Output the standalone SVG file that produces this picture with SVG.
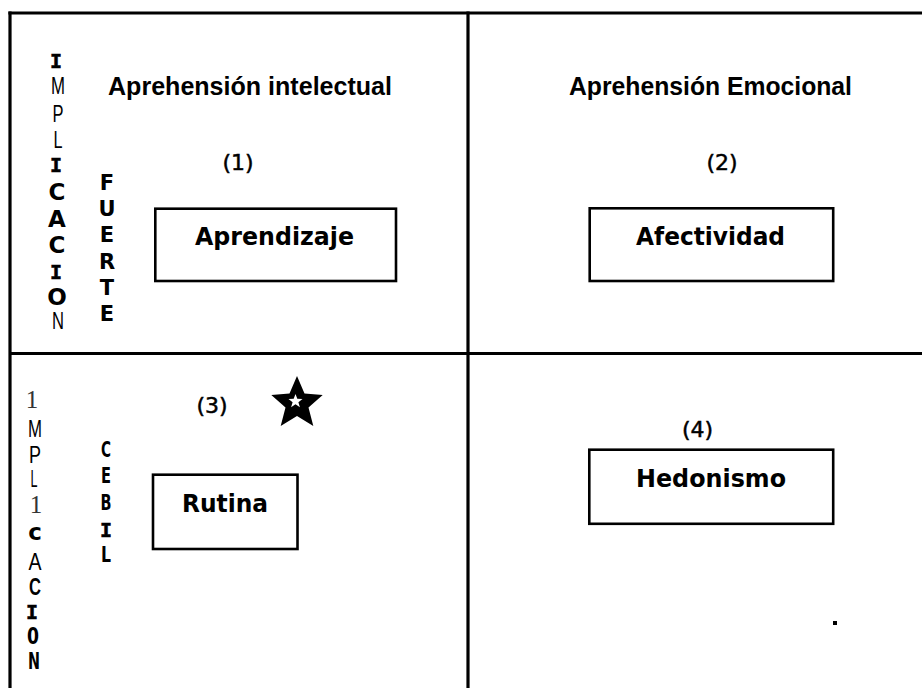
<svg xmlns="http://www.w3.org/2000/svg" width="922" height="688" viewBox="0 0 922 688">
<style>
.grid{stroke:#000;stroke-width:3.2;fill:none}
.box{fill:#fff;stroke:#000;stroke-width:2.6}
.head{font-family:"Liberation Sans",Arial,sans-serif;font-weight:bold;font-size:25px;fill:#000}
.num{font-family:"DejaVu Sans",Verdana,sans-serif;font-size:22px;fill:#000;stroke:#000;stroke-width:0.5;text-anchor:middle}
.lbl{font-family:"DejaVu Sans",Verdana,sans-serif;font-weight:bold;font-size:24px;fill:#000;text-anchor:middle}
.vb{font-family:"DejaVu Sans",Verdana,sans-serif;font-weight:bold;font-size:23px;fill:#000;text-anchor:middle}
.vs{font-family:"DejaVu Sans",Verdana,sans-serif;font-weight:bold;font-size:21px;fill:#000;text-anchor:middle}
.vi{font-family:"DejaVu Sans Mono",monospace;font-weight:bold;font-size:20px;fill:#000;stroke:#000;stroke-width:0.6;text-anchor:middle}
.vn{font-family:"Liberation Sans",Arial,sans-serif;font-size:23px;fill:#000;text-anchor:middle}
.vr{font-family:"Liberation Serif","Times New Roman",serif;font-size:25px;fill:#333;text-anchor:middle}
</style>
<rect width="922" height="688" fill="#fff"/>
<g id="grid" class="grid">
<line x1="8.4" y1="13" x2="922" y2="13"/>
<line x1="10" y1="11.4" x2="10" y2="688"/>
<line x1="468" y1="11.4" x2="468" y2="688"/>
<line x1="10" y1="353.5" x2="922" y2="353.5"/>
</g>
<g id="axis-fuerte">
<text class="vi" x="56" y="68">I</text>
<text class="vn" x="58" y="94" textLength="14" lengthAdjust="spacingAndGlyphs">M</text>
<text class="vn" x="58" y="121.5" textLength="11" lengthAdjust="spacingAndGlyphs">P</text>
<text class="vn" x="58" y="148" textLength="9" lengthAdjust="spacingAndGlyphs">L</text>
<text class="vi" x="56" y="172">I</text>
<text class="vb" x="57" y="200">C</text>
<text class="vb" x="57" y="227">A</text>
<text class="vb" x="57" y="253">C</text>
<text class="vi" x="56" y="279">I</text>
<text class="vb" x="57" y="305">O</text>
<text class="vn" x="58" y="329" textLength="12" lengthAdjust="spacingAndGlyphs">N</text>
<text class="vs" x="107" y="190">F</text>
<text class="vs" x="107" y="216">U</text>
<text class="vs" x="107" y="242">E</text>
<text class="vs" x="107" y="269">R</text>
<text class="vs" x="107" y="295">T</text>
<text class="vs" x="107" y="321">E</text>
</g>
<g id="axis-debil">
<text class="vr" x="32" y="408">1</text>
<text class="vn" x="35" y="437" textLength="14" lengthAdjust="spacingAndGlyphs">M</text>
<text class="vn" x="35" y="463" textLength="12" lengthAdjust="spacingAndGlyphs">P</text>
<text class="vn" x="34" y="487" font-size="17" textLength="7" lengthAdjust="spacingAndGlyphs">L</text>
<text class="vr" x="36" y="513">1</text>
<text class="vb" x="35" y="540" font-size="24">c</text>
<text class="vn" x="35" y="570" textLength="13" lengthAdjust="spacingAndGlyphs">A</text>
<text class="vn" x="35" y="595" font-weight="bold" textLength="12" lengthAdjust="spacingAndGlyphs">C</text>
<text class="vi" x="32" y="619" font-size="22">I</text>
<text class="vb" x="33" y="644" textLength="12" lengthAdjust="spacingAndGlyphs">0</text>
<text class="vb" x="34" y="669" textLength="12" lengthAdjust="spacingAndGlyphs">N</text>
<text class="vs" x="106" y="457" textLength="10" lengthAdjust="spacingAndGlyphs">C</text>
<text class="vs" x="106" y="483" textLength="10" lengthAdjust="spacingAndGlyphs">E</text>
<text class="vs" x="106" y="510" textLength="11" lengthAdjust="spacingAndGlyphs">B</text>
<text class="vi" x="106" y="537">I</text>
<text class="vs" x="106" y="562" textLength="10" lengthAdjust="spacingAndGlyphs">L</text>
</g>
<g id="head-intelectual">
<text class="head" x="108" y="95" textLength="284" lengthAdjust="spacingAndGlyphs">Aprehensión intelectual</text>
</g>
<g id="head-emocional">
<text class="head" x="569" y="95" textLength="283" lengthAdjust="spacingAndGlyphs">Aprehensión Emocional</text>
</g>
<g id="q1">
<text class="num" x="238" y="170">(1)</text>
<rect class="box" x="155.3" y="208.7" width="240.7" height="72.3"/>
<text class="lbl" x="274.5" y="245" textLength="159" lengthAdjust="spacingAndGlyphs">Aprendizaje</text>
</g>
<g id="q2">
<text class="num" x="722" y="170">(2)</text>
<rect class="box" x="589.7" y="208.3" width="243.5" height="72.7"/>
<text class="lbl" x="710.5" y="245" textLength="149" lengthAdjust="spacingAndGlyphs">Afectividad</text>
</g>
<g id="q3">
<text class="num" x="212" y="413">(3)</text>
<polygon fill="#000" points="297,376 304.5,393.5 322.7,395 308.5,407.5 313.3,426 297,416 280.7,426 285.5,407.5 271.3,395 289.5,393.5"/>
<polygon fill="#fff" points="295.5,394 297.3,398.8 302.5,399 298.4,402.2 299.9,407.2 295.5,404.3 291.1,407.2 292.6,402.2 288.5,399 293.7,398.8"/>
<rect class="box" x="153" y="474.7" width="144.5" height="74.3"/>
<text class="lbl" x="225" y="512" textLength="86" lengthAdjust="spacingAndGlyphs">Rutina</text>
</g>
<g id="q4">
<text class="num" x="697.5" y="437">(4)</text>
<rect class="box" x="589.3" y="449.7" width="243.9" height="74.1"/>
<text class="lbl" x="711" y="487" textLength="150" lengthAdjust="spacingAndGlyphs">Hedonismo</text>
<rect x="833" y="621" width="4" height="4" fill="#000"/>
</g>
</svg>
